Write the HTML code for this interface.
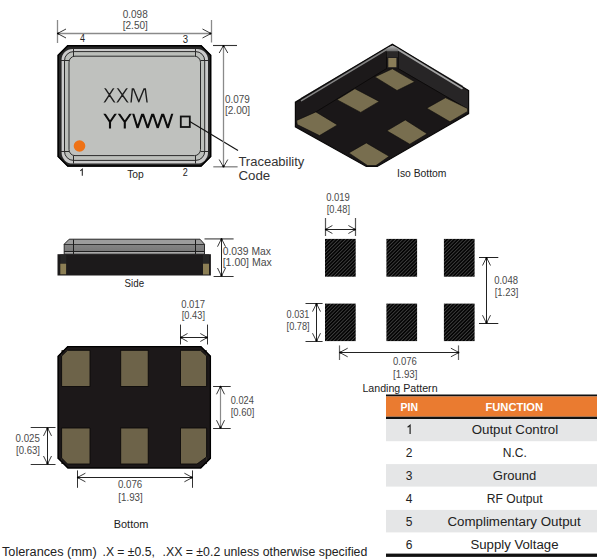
<!DOCTYPE html>
<html><head><meta charset="utf-8"><style>
html,body{margin:0;padding:0;background:#fff;width:605px;height:559px;overflow:hidden}
svg{display:block}
text{font-family:"Liberation Sans",sans-serif}
</style></head><body>
<svg width="605" height="559" viewBox="0 0 605 559">
<rect width="605" height="559" fill="#fff"/>
<polygon points="67.5,45 201.3,45 211.3,55 211.3,156.8 201.3,166.8 67.5,166.8 57.5,156.8 57.5,55" fill="#262626"/>
<polygon points="67.8,45.7 201.0,45.7 210.6,55.300000000000004 210.6,156.4 201.0,166 67.8,166 58.2,156.4 58.2,55.300000000000004" fill="none" stroke="#000" stroke-width="1.4"/>
<rect x="61.6" y="48.9" width="146.4" height="114.7" rx="11" fill="#cacaca"/>
<rect x="64.5" y="51.6" width="140.2" height="108.8" rx="9" fill="#bcbfbb" stroke="#2a2a2a" stroke-width="1"/>
<rect x="69" y="56.2" width="131.5" height="99.4" rx="6" fill="#bfc1be" stroke="#2a2a2a" stroke-width="1"/>
<line x1="73.5" y1="48.5" x2="73.5" y2="56" stroke="#2a2a2a" stroke-width="1"/>
<line x1="195.5" y1="48.5" x2="195.5" y2="56" stroke="#2a2a2a" stroke-width="1"/>
<line x1="73.5" y1="156" x2="73.5" y2="163.5" stroke="#2a2a2a" stroke-width="1"/>
<line x1="195.5" y1="156" x2="195.5" y2="163.5" stroke="#2a2a2a" stroke-width="1"/>
<line x1="61" y1="60.5" x2="69" y2="60.5" stroke="#2a2a2a" stroke-width="1"/>
<line x1="200.5" y1="60.5" x2="208" y2="60.5" stroke="#2a2a2a" stroke-width="1"/>
<line x1="61" y1="151.5" x2="69" y2="151.5" stroke="#2a2a2a" stroke-width="1"/>
<line x1="200.5" y1="151.5" x2="208" y2="151.5" stroke="#2a2a2a" stroke-width="1"/>
<circle cx="79.5" cy="146" r="5.8" fill="#ee7216"/>
<defs><clipPath id="cx"><rect x="100" y="88.2" width="50" height="14.4"/></clipPath><clipPath id="cy"><rect x="100" y="113.7" width="76" height="14.9"/></clipPath></defs>
<path clip-path="url(#cx)" d="M104.2,87 L115,103.2 M114.4,87 L104,103.2 M116.8,87 L128.2,103.2 M127.8,87 L116.8,103.2 M131,103.5 L132.6,86.5 L138.8,101.8 L145,86.5 L147.2,103.5" fill="none" stroke="#1e1e1e" stroke-width="1.4" stroke-linejoin="miter" stroke-miterlimit="6"/>
<path clip-path="url(#cy)" d="M104,113 L110,122 L116.2,113 M110,122 L110,129 M118.4,113 L124.8,122 L131.2,113 M124.8,122 L124.8,129 M133,113 L137.6,128 L142.6,113 L147.7,128 L152.7,113 L157.7,128 L162.7,113 L167.8,128 L172.5,113" fill="none" stroke="#0c0c0c" stroke-width="2.1" stroke-linejoin="miter" stroke-miterlimit="2"/>
<rect x="180.8" y="116.5" width="9" height="10.5" fill="none" stroke="#111" stroke-width="1.8"/>
<line x1="189.8" y1="121.5" x2="238" y2="150.5" stroke="#111" stroke-width="1.1"/>
<text x="238.4" y="166.3" font-size="12" fill="#333" font-weight="normal" text-anchor="start" textLength="66" lengthAdjust="spacingAndGlyphs">Traceability</text>
<text x="238.4" y="179.8" font-size="12" fill="#333" font-weight="normal" text-anchor="start" textLength="31.8" lengthAdjust="spacingAndGlyphs">Code</text>
<line x1="57.5" y1="20" x2="57.5" y2="43" stroke="#8a8a8a" stroke-width="1.3"/>
<line x1="211.5" y1="20" x2="211.5" y2="42.5" stroke="#8a8a8a" stroke-width="1.3"/>
<line x1="57.5" y1="33.5" x2="211" y2="33.5" stroke="#8a8a8a" stroke-width="1.3"/>
<polyline points="66.00,29.00 57.5,33.5 66.00,38.00" fill="none" stroke="#222" stroke-width="0.9"/>
<polyline points="202.50,38.00 211,33.5 202.50,29.00" fill="none" stroke="#222" stroke-width="0.9"/>
<circle cx="58.1" cy="33.5" r="1.1" fill="#000"/><circle cx="210.4" cy="33.5" r="1.1" fill="#000"/>
<text x="122.7" y="17.9" font-size="10.1" fill="#4a4a4a" font-weight="normal" text-anchor="start" textLength="25" lengthAdjust="spacingAndGlyphs">0.098</text>
<text x="122.7" y="28.5" font-size="10.1" fill="#4a4a4a" font-weight="normal" text-anchor="start" textLength="25.2" lengthAdjust="spacingAndGlyphs">[2.50]</text>
<text x="80" y="42.1" font-size="10" fill="#222" font-weight="normal" text-anchor="start" textLength="5" lengthAdjust="spacingAndGlyphs">4</text>
<text x="182.7" y="42.5" font-size="10" fill="#222" font-weight="normal" text-anchor="start" textLength="5.3" lengthAdjust="spacingAndGlyphs">3</text>
<path d="M80.3,170.9 L82.3,169.2 L82.3,175.7" fill="none" stroke="#222" stroke-width="1.05"/>
<text x="182.7" y="175.6" font-size="10" fill="#222" font-weight="normal" text-anchor="start" textLength="5" lengthAdjust="spacingAndGlyphs">2</text>
<text x="127.2" y="177.6" font-size="10.3" fill="#222" font-weight="normal" text-anchor="start" textLength="16.6" lengthAdjust="spacingAndGlyphs">Top</text>
<line x1="213" y1="45.5" x2="237" y2="45.5" stroke="#333" stroke-width="1.1"/>
<line x1="213.3" y1="166.8" x2="237.6" y2="166.8" stroke="#8a8a8a" stroke-width="1.4"/>
<line x1="223.5" y1="45.5" x2="223.5" y2="167" stroke="#8a8a8a" stroke-width="1.3"/>
<polyline points="227.80,53.00 223.5,45.5 219.20,53.00" fill="none" stroke="#222" stroke-width="0.9"/>
<polyline points="219.20,159.50 223.5,167 227.80,159.50" fill="none" stroke="#222" stroke-width="0.9"/>
<circle cx="223.5" cy="46.1" r="1.1" fill="#000"/><circle cx="223.5" cy="166.4" r="1.1" fill="#000"/>
<text x="224.9" y="103.3" font-size="10.1" fill="#4a4a4a" font-weight="normal" text-anchor="start" textLength="24.8" lengthAdjust="spacingAndGlyphs">0.079</text>
<text x="224.9" y="113.8" font-size="10.1" fill="#4a4a4a" font-weight="normal" text-anchor="start" textLength="25.3" lengthAdjust="spacingAndGlyphs">[2.00]</text>
<polygon points="392.4,44.3 468.6,90.6 468.6,113.6 377.2,166.4 366.3,166.4 295.4,126.8 295.4,102.2" fill="#1a1718"/>
<polygon points="398.2,48 468.6,90.6 468.6,109.5 398.2,68.6" fill="#272526"/>
<polygon points="386.5,48 295.4,102.2 295.4,124.5 386.5,68.6" fill="#1c191a"/>
<polyline points="295.8,124.3 386.5,68.6 398.2,68.6 468.2,109.3" fill="none" stroke="#0c0a0a" stroke-width="1"/>
<rect x="386.5" y="48" width="11.7" height="20.6" fill="#1e1c1d"/>
<line x1="386.5" y1="49" x2="386.5" y2="68.6" stroke="#0c0a0a" stroke-width="1"/>
<line x1="398.2" y1="49" x2="398.2" y2="68.6" stroke="#0c0a0a" stroke-width="1"/>
<polyline points="301,98.5 386.5,48.3" fill="none" stroke="#6e6e6e" stroke-width="1.3"/>
<polyline points="398.2,48.3 463,86.5" fill="none" stroke="#6e6e6e" stroke-width="1.3"/>
<defs><linearGradient id="capg" x1="0" y1="0" x2="0" y2="1"><stop offset="0" stop-color="#b8b8b8"/><stop offset="1" stop-color="#6a6a6a"/></linearGradient></defs>
<polygon points="386.5,48 392.4,45.6 398.2,48 398.2,51.2 386.5,51.2" fill="url(#capg)"/>
<rect x="388.3" y="58" width="8.1" height="9.2" fill="#8a7d58"/>
<rect x="386.8" y="51.2" width="11.2" height="6" fill="#2a2828"/>
<polygon points="374.9,76.9 392.4,68.8 414.7,81.8 397,90.5" fill="#786e4f" stroke="#0e0c0c" stroke-width="0.6"/>
<polygon points="337,99.7 354.9,88.7 379.2,101.4 360.7,112.4" fill="#786e4f" stroke="#0e0c0c" stroke-width="0.6"/>
<polygon points="296.7,120.4 315.9,111.9 337.4,124.9 319.5,135.6 297.2,124.6" fill="#786e4f" stroke="#0e0c0c" stroke-width="0.6"/>
<polygon points="426.8,108.2 445.5,97.7 467.6,108.6 467.6,111.4 450,121.8" fill="#786e4f" stroke="#0e0c0c" stroke-width="0.6"/>
<polygon points="386.9,130.8 405.3,119.9 427.1,133.8 409.8,144.2" fill="#786e4f" stroke="#0e0c0c" stroke-width="0.6"/>
<polygon points="348.9,152.9 366.3,142.9 389.1,156.3 375.9,165.6 367.6,165.6" fill="#786e4f" stroke="#0e0c0c" stroke-width="0.6"/>
<polygon points="392.4,44.3 468.6,90.6 468.6,113.6 377.2,166.4 366.3,166.4 295.4,126.8 295.4,102.2" fill="none" stroke="#0a0909" stroke-width="1.2"/>
<polyline points="301.5,100.6 386.5,49.7" fill="none" stroke="#858585" stroke-width="1.5" stroke-linecap="round"/>
<polyline points="398.2,49.7 462,88.4" fill="none" stroke="#a4a4a4" stroke-width="1.7" stroke-linecap="round"/>
<polygon points="386.5,48.5 392.4,45.8 398.2,48.5 398.2,51.2 386.5,51.2" fill="url(#capg)"/>
<text x="397" y="176.8" font-size="10.3" fill="#222" font-weight="normal" text-anchor="start" textLength="49.5" lengthAdjust="spacingAndGlyphs">Iso Bottom</text>
<defs><linearGradient id="lidg" x1="0" y1="0" x2="0" y2="1"><stop offset="0" stop-color="#8e8e8e"/><stop offset="1" stop-color="#747474"/></linearGradient></defs>
<polygon points="69.2,239.2 200,239.2 204.5,244.2 204.5,254.2 64.2,254.2 64.2,244.2" fill="url(#lidg)"/>
<polygon points="69.5,239.6 199.7,239.6 204,244.2 64.6,244.2" fill="#9c9c9c"/>
<rect x="64" y="251.8" width="140.5" height="2.4" fill="#a8a8a8"/>
<line x1="64" y1="244.5" x2="204.5" y2="244.5" stroke="#333" stroke-width="1"/>
<line x1="64" y1="251.5" x2="204.5" y2="251.5" stroke="#1e1e1e" stroke-width="1"/>
<line x1="73.5" y1="239.5" x2="73.5" y2="254" stroke="#1a1a1a" stroke-width="1"/>
<line x1="195.5" y1="239.5" x2="195.5" y2="254" stroke="#1a1a1a" stroke-width="1"/>
<polygon points="69.2,239.2 200,239.2 204.5,244.2 204.5,254.2 64.2,254.2 64.2,244.2" fill="none" stroke="#2a2a2a" stroke-width="1"/>
<rect x="57.5" y="254.2" width="153.4" height="21.3" fill="#1c1a1b"/>
<rect x="60.3" y="254.5" width="6" height="9" fill="#262626"/>
<rect x="203" y="254.5" width="6" height="9" fill="#262626"/>
<rect x="60.3" y="263.7" width="5.8" height="10.6" fill="#8c7f55"/>
<rect x="203" y="263.7" width="6" height="10.8" fill="#8c7f55"/>
<text x="124.6" y="286.9" font-size="10.3" fill="#222" font-weight="normal" text-anchor="start" textLength="19.5" lengthAdjust="spacingAndGlyphs">Side</text>
<line x1="204.5" y1="238.9" x2="233.6" y2="238.9" stroke="#666" stroke-width="1.4"/>
<line x1="213.6" y1="276.5" x2="233.6" y2="276.5" stroke="#333" stroke-width="1"/>
<line x1="221.5" y1="238.7" x2="221.5" y2="276" stroke="#222" stroke-width="1"/>
<polyline points="225.50,246.70 221.5,238.7 217.50,246.70" fill="none" stroke="#222" stroke-width="0.9"/>
<polyline points="217.50,268.00 221.5,276 225.50,268.00" fill="none" stroke="#222" stroke-width="0.9"/>
<circle cx="221.5" cy="239.29999999999998" r="1.1" fill="#000"/><circle cx="221.5" cy="275.4" r="1.1" fill="#000"/>
<text x="222.7" y="254.9" font-size="10.1" fill="#4a4a4a" font-weight="normal" text-anchor="start" textLength="48.2" lengthAdjust="spacingAndGlyphs">0.039 Max</text>
<text x="222.7" y="265.5" font-size="10.1" fill="#4a4a4a" font-weight="normal" text-anchor="start" textLength="49.1" lengthAdjust="spacingAndGlyphs">[1.00] Max</text>
<defs><pattern id="hatch" patternUnits="userSpaceOnUse" width="2.52" height="2.52" patternTransform="rotate(45)"><rect width="2.52" height="2.52" fill="#050505"/><line x1="0" y1="0" x2="0" y2="2.52" stroke="#7a7a7a" stroke-width="0.85"/></pattern></defs>
<rect x="325" y="238.9" width="30.70" height="37.80" fill="url(#hatch)"/>
<rect x="325" y="303.6" width="30.70" height="37.50" fill="url(#hatch)"/>
<rect x="386.4" y="238.9" width="30.70" height="37.80" fill="url(#hatch)"/>
<rect x="386.4" y="303.6" width="30.70" height="37.50" fill="url(#hatch)"/>
<rect x="443.9" y="238.9" width="30.70" height="37.80" fill="url(#hatch)"/>
<rect x="443.9" y="303.6" width="30.70" height="37.50" fill="url(#hatch)"/>
<line x1="325.5" y1="218" x2="325.5" y2="236" stroke="#555" stroke-width="1.2"/>
<line x1="355.5" y1="218" x2="355.5" y2="236" stroke="#555" stroke-width="1.2"/>
<line x1="325.4" y1="229.5" x2="355.4" y2="229.5" stroke="#222" stroke-width="1"/>
<polyline points="332.40,225.50 325.4,229.5 332.40,233.50" fill="none" stroke="#222" stroke-width="0.9"/>
<polyline points="348.40,233.50 355.4,229.5 348.40,225.50" fill="none" stroke="#222" stroke-width="0.9"/>
<circle cx="326.0" cy="229.5" r="1.1" fill="#000"/><circle cx="354.79999999999995" cy="229.5" r="1.1" fill="#000"/>
<text x="326.2" y="201.2" font-size="10.1" fill="#4a4a4a" font-weight="normal" text-anchor="start" textLength="23.7" lengthAdjust="spacingAndGlyphs">0.019</text>
<text x="326.8" y="212.6" font-size="10.1" fill="#4a4a4a" font-weight="normal" text-anchor="start" textLength="23.2" lengthAdjust="spacingAndGlyphs">[0.48]</text>
<line x1="479" y1="257.5" x2="498.3" y2="257.5" stroke="#222" stroke-width="1"/>
<line x1="479" y1="323.5" x2="498.3" y2="323.5" stroke="#222" stroke-width="1"/>
<line x1="486.5" y1="257.5" x2="486.5" y2="323.2" stroke="#222" stroke-width="1"/>
<polyline points="490.50,265.50 486.5,257.5 482.50,265.50" fill="none" stroke="#222" stroke-width="0.9"/>
<polyline points="482.50,315.20 486.5,323.2 490.50,315.20" fill="none" stroke="#222" stroke-width="0.9"/>
<circle cx="486.5" cy="258.1" r="1.1" fill="#000"/><circle cx="486.5" cy="322.59999999999997" r="1.1" fill="#000"/>
<text x="494.2" y="283.9" font-size="10.1" fill="#4a4a4a" font-weight="normal" text-anchor="start" textLength="23.8" lengthAdjust="spacingAndGlyphs">0.048</text>
<text x="494.7" y="295.6" font-size="10.1" fill="#4a4a4a" font-weight="normal" text-anchor="start" textLength="23.6" lengthAdjust="spacingAndGlyphs">[1.23]</text>
<line x1="305.5" y1="303.5" x2="322.6" y2="303.5" stroke="#333" stroke-width="1"/>
<line x1="305.5" y1="341.5" x2="322.6" y2="341.5" stroke="#333" stroke-width="1"/>
<line x1="316.5" y1="303.6" x2="316.5" y2="341.2" stroke="#222" stroke-width="1"/>
<polyline points="320.50,311.60 316.5,303.6 312.50,311.60" fill="none" stroke="#222" stroke-width="0.9"/>
<polyline points="312.50,333.20 316.5,341.2 320.50,333.20" fill="none" stroke="#222" stroke-width="0.9"/>
<circle cx="316.5" cy="304.20000000000005" r="1.1" fill="#000"/><circle cx="316.5" cy="340.59999999999997" r="1.1" fill="#000"/>
<text x="286.6" y="317.8" font-size="10.1" fill="#4a4a4a" font-weight="normal" text-anchor="start" textLength="22.8" lengthAdjust="spacingAndGlyphs">0.031</text>
<text x="286.6" y="330.3" font-size="10.1" fill="#4a4a4a" font-weight="normal" text-anchor="start" textLength="23.1" lengthAdjust="spacingAndGlyphs">[0.78]</text>
<line x1="339.5" y1="345.4" x2="339.5" y2="360" stroke="#666" stroke-width="1.2"/>
<line x1="458.5" y1="345.4" x2="458.5" y2="360" stroke="#666" stroke-width="1.2"/>
<line x1="339.7" y1="352.5" x2="458.9" y2="352.5" stroke="#222" stroke-width="1"/>
<polyline points="347.70,348.20 339.7,352.5 347.70,356.80" fill="none" stroke="#222" stroke-width="0.9"/>
<polyline points="450.90,356.80 458.9,352.5 450.90,348.20" fill="none" stroke="#222" stroke-width="0.9"/>
<circle cx="340.3" cy="352.5" r="1.1" fill="#000"/><circle cx="458.29999999999995" cy="352.5" r="1.1" fill="#000"/>
<text x="393" y="365.0" font-size="10.1" fill="#4a4a4a" font-weight="normal" text-anchor="start" textLength="23.8" lengthAdjust="spacingAndGlyphs">0.076</text>
<text x="393" y="377.5" font-size="10.1" fill="#4a4a4a" font-weight="normal" text-anchor="start" textLength="24.5" lengthAdjust="spacingAndGlyphs">[1.93]</text>
<text x="362.4" y="392.4" font-size="10" fill="#222" font-weight="normal" text-anchor="start" textLength="75.2" lengthAdjust="spacingAndGlyphs">Landing Pattern</text>
<polygon points="67.6,346.1 201,346.1 211,356.1 211,458.4 201,468.4 67.6,468.4 57.6,458.4 57.6,356.1" fill="#1c1819"/>
<rect x="61.6" y="350.3" width="28.40" height="36.20" fill="#6d6349"/>
<rect x="61.6" y="428" width="28.40" height="36.00" fill="#6d6349"/>
<rect x="120.7" y="350.3" width="27.50" height="36.20" fill="#6d6349"/>
<rect x="120.7" y="428" width="27.50" height="36.00" fill="#6d6349"/>
<rect x="180.5" y="350.3" width="26.10" height="36.20" fill="#6d6349"/>
<rect x="180.5" y="428" width="26.10" height="36.00" fill="#6d6349"/>
<polygon points="61.6,350.3 67.5,350.3 61.6,356" fill="#1c1819"/>
<polygon points="206.6,350.3 200.5,350.3 206.6,356" fill="#1c1819"/>
<polygon points="61.6,464 67.5,464 61.6,458" fill="#1c1819"/>
<polygon points="206.6,464 197,464 206.6,457" fill="#1c1819"/>
<polygon points="61.6,356 67.5,350.3 90,350.3 90,386.5 61.6,386.5" fill="none" stroke="#0c0a0a" stroke-width="0.9"/>
<rect x="120.7" y="350.3" width="27.5" height="36.2" fill="none" stroke="#0c0a0a" stroke-width="0.9"/>
<polygon points="180.5,350.3 200.5,350.3 206.6,356 206.6,386.5 180.5,386.5" fill="none" stroke="#0c0a0a" stroke-width="0.9"/>
<polygon points="61.6,428 90,428 90,464 67.5,464 61.6,458" fill="none" stroke="#0c0a0a" stroke-width="0.9"/>
<rect x="120.7" y="428" width="27.5" height="36" fill="none" stroke="#0c0a0a" stroke-width="0.9"/>
<polygon points="180.5,428 206.6,428 206.6,457 197,464 180.5,464" fill="none" stroke="#0c0a0a" stroke-width="0.9"/>
<polygon points="67.8,346.7 200.8,346.7 210.4,356.3 210.4,458.2 200.8,467.8 67.8,467.8 58.2,458.2 58.2,356.3" fill="none" stroke="#000" stroke-width="1.3"/>
<line x1="180.5" y1="324.6" x2="180.5" y2="344.5" stroke="#333" stroke-width="1"/>
<line x1="207.5" y1="324.6" x2="207.5" y2="344.5" stroke="#333" stroke-width="1"/>
<line x1="180.5" y1="337.5" x2="207.3" y2="337.5" stroke="#222" stroke-width="1"/>
<polyline points="187.50,333.50 180.5,337.5 187.50,341.50" fill="none" stroke="#222" stroke-width="0.9"/>
<polyline points="200.30,341.50 207.3,337.5 200.30,333.50" fill="none" stroke="#222" stroke-width="0.9"/>
<circle cx="181.1" cy="337.5" r="1.1" fill="#000"/><circle cx="206.70000000000002" cy="337.5" r="1.1" fill="#000"/>
<text x="181.2" y="307.9" font-size="10.1" fill="#4a4a4a" font-weight="normal" text-anchor="start" textLength="23.8" lengthAdjust="spacingAndGlyphs">0.017</text>
<text x="181.8" y="319.3" font-size="10.1" fill="#4a4a4a" font-weight="normal" text-anchor="start" textLength="23.2" lengthAdjust="spacingAndGlyphs">[0.43]</text>
<line x1="213.1" y1="386.5" x2="230.7" y2="386.5" stroke="#333" stroke-width="1"/>
<line x1="213.1" y1="428.5" x2="230.7" y2="428.5" stroke="#333" stroke-width="1"/>
<line x1="220.5" y1="386.3" x2="220.5" y2="428.2" stroke="#8a8a8a" stroke-width="1.2"/>
<polyline points="224.50,394.30 220.5,386.3 216.50,394.30" fill="none" stroke="#222" stroke-width="0.9"/>
<polyline points="216.50,420.20 220.5,428.2 224.50,420.20" fill="none" stroke="#222" stroke-width="0.9"/>
<circle cx="220.5" cy="386.90000000000003" r="1.1" fill="#000"/><circle cx="220.5" cy="427.59999999999997" r="1.1" fill="#000"/>
<text x="230.7" y="403.8" font-size="10.1" fill="#4a4a4a" font-weight="normal" text-anchor="start" textLength="23.1" lengthAdjust="spacingAndGlyphs">0.024</text>
<text x="230.7" y="416.3" font-size="10.1" fill="#4a4a4a" font-weight="normal" text-anchor="start" textLength="23.7" lengthAdjust="spacingAndGlyphs">[0.60]</text>
<line x1="30.7" y1="427.5" x2="55.5" y2="427.5" stroke="#333" stroke-width="1"/>
<line x1="30.7" y1="464.5" x2="55.5" y2="464.5" stroke="#333" stroke-width="1"/>
<line x1="47.5" y1="427.9" x2="47.5" y2="464" stroke="#222" stroke-width="1"/>
<polyline points="51.50,435.90 47.5,427.9 43.50,435.90" fill="none" stroke="#222" stroke-width="0.9"/>
<polyline points="43.50,456.00 47.5,464 51.50,456.00" fill="none" stroke="#222" stroke-width="0.9"/>
<circle cx="47.5" cy="428.5" r="1.1" fill="#000"/><circle cx="47.5" cy="463.4" r="1.1" fill="#000"/>
<text x="15.6" y="442.0" font-size="10.1" fill="#4a4a4a" font-weight="normal" text-anchor="start" textLength="24.3" lengthAdjust="spacingAndGlyphs">0.025</text>
<text x="16" y="453.5" font-size="10.1" fill="#4a4a4a" font-weight="normal" text-anchor="start" textLength="24" lengthAdjust="spacingAndGlyphs">[0.63]</text>
<line x1="77.5" y1="470.4" x2="77.5" y2="487.8" stroke="#333" stroke-width="1"/>
<line x1="192.5" y1="470.4" x2="192.5" y2="487.8" stroke="#333" stroke-width="1"/>
<line x1="77.4" y1="477.5" x2="192.4" y2="477.5" stroke="#222" stroke-width="1"/>
<polyline points="85.40,473.20 77.4,477.5 85.40,481.80" fill="none" stroke="#222" stroke-width="0.9"/>
<polyline points="184.40,481.80 192.4,477.5 184.40,473.20" fill="none" stroke="#222" stroke-width="0.9"/>
<circle cx="78.0" cy="477.5" r="1.1" fill="#000"/><circle cx="191.8" cy="477.5" r="1.1" fill="#000"/>
<text x="117.9" y="488.2" font-size="10.1" fill="#4a4a4a" font-weight="normal" text-anchor="start" textLength="24.3" lengthAdjust="spacingAndGlyphs">0.076</text>
<text x="118.3" y="500.5" font-size="10.1" fill="#4a4a4a" font-weight="normal" text-anchor="start" textLength="24.5" lengthAdjust="spacingAndGlyphs">[1.93]</text>
<text x="113.7" y="528.3" font-size="10.3" fill="#222" font-weight="normal" text-anchor="start" textLength="34.7" lengthAdjust="spacingAndGlyphs">Bottom</text>
<rect x="386" y="394.5" width="211" height="2" fill="#111"/>
<rect x="386" y="396.5" width="211" height="20.2" fill="#ea7b30"/>
<rect x="386" y="416.7" width="211" height="2.3" fill="#111"/>
<text x="400.6" y="411" font-size="11" fill="#fff" font-weight="bold" text-anchor="start" textLength="17.4" lengthAdjust="spacingAndGlyphs">PIN</text>
<text x="485.5" y="410.9" font-size="11" fill="#fff" font-weight="bold" text-anchor="start" textLength="57.6" lengthAdjust="spacingAndGlyphs">FUNCTION</text>
<rect x="386" y="419" width="211" height="22.20" fill="#e5e6e7"/>
<rect x="386" y="464.1" width="211" height="22.50" fill="#e5e6e7"/>
<rect x="386" y="509.9" width="211" height="22.50" fill="#e5e6e7"/>
<path d="M407.6,427.2 L410.1,425.3 L410.1,434" fill="none" stroke="#222" stroke-width="1.2"/>
<text x="471.7" y="434.1" font-size="12" fill="#222" font-weight="normal" text-anchor="start" textLength="86.5" lengthAdjust="spacingAndGlyphs">Output Control</text>
<text x="409.1" y="457.2" font-size="12" fill="#222" font-weight="normal" text-anchor="middle">2</text>
<text x="502.7" y="457.2" font-size="12" fill="#222" font-weight="normal" text-anchor="start" textLength="24.1" lengthAdjust="spacingAndGlyphs">N.C.</text>
<text x="409.1" y="480.1" font-size="12" fill="#222" font-weight="normal" text-anchor="middle">3</text>
<text x="492.8" y="480.1" font-size="12" fill="#222" font-weight="normal" text-anchor="start" textLength="43.4" lengthAdjust="spacingAndGlyphs">Ground</text>
<text x="409.1" y="503.3" font-size="12" fill="#222" font-weight="normal" text-anchor="middle">4</text>
<text x="486.8" y="503.3" font-size="12" fill="#222" font-weight="normal" text-anchor="start" textLength="55.8" lengthAdjust="spacingAndGlyphs">RF Output</text>
<text x="409.1" y="526.4" font-size="12" fill="#222" font-weight="normal" text-anchor="middle">5</text>
<text x="447.4" y="526.4" font-size="12" fill="#222" font-weight="normal" text-anchor="start" textLength="133.3" lengthAdjust="spacingAndGlyphs">Complimentary Output</text>
<text x="409.1" y="549.1" font-size="12" fill="#222" font-weight="normal" text-anchor="middle">6</text>
<text x="470.4" y="549.1" font-size="12" fill="#222" font-weight="normal" text-anchor="start" textLength="88.1" lengthAdjust="spacingAndGlyphs">Supply Voltage</text>
<rect x="386" y="553.6" width="211" height="3.3" fill="#111"/>
<text x="2" y="555.9" font-size="12.5" fill="#222" font-weight="normal" text-anchor="start" textLength="94.7" lengthAdjust="spacingAndGlyphs">Tolerances (mm)</text>
<text x="102.5" y="555.9" font-size="12.5" fill="#222" font-weight="normal" text-anchor="start" textLength="52.3" lengthAdjust="spacingAndGlyphs">.X = ±0.5,</text>
<text x="162.5" y="555.9" font-size="12.5" fill="#222" font-weight="normal" text-anchor="start" textLength="204.8" lengthAdjust="spacingAndGlyphs">.XX = ±0.2 unless otherwise specified</text>
</svg>
</body></html>
